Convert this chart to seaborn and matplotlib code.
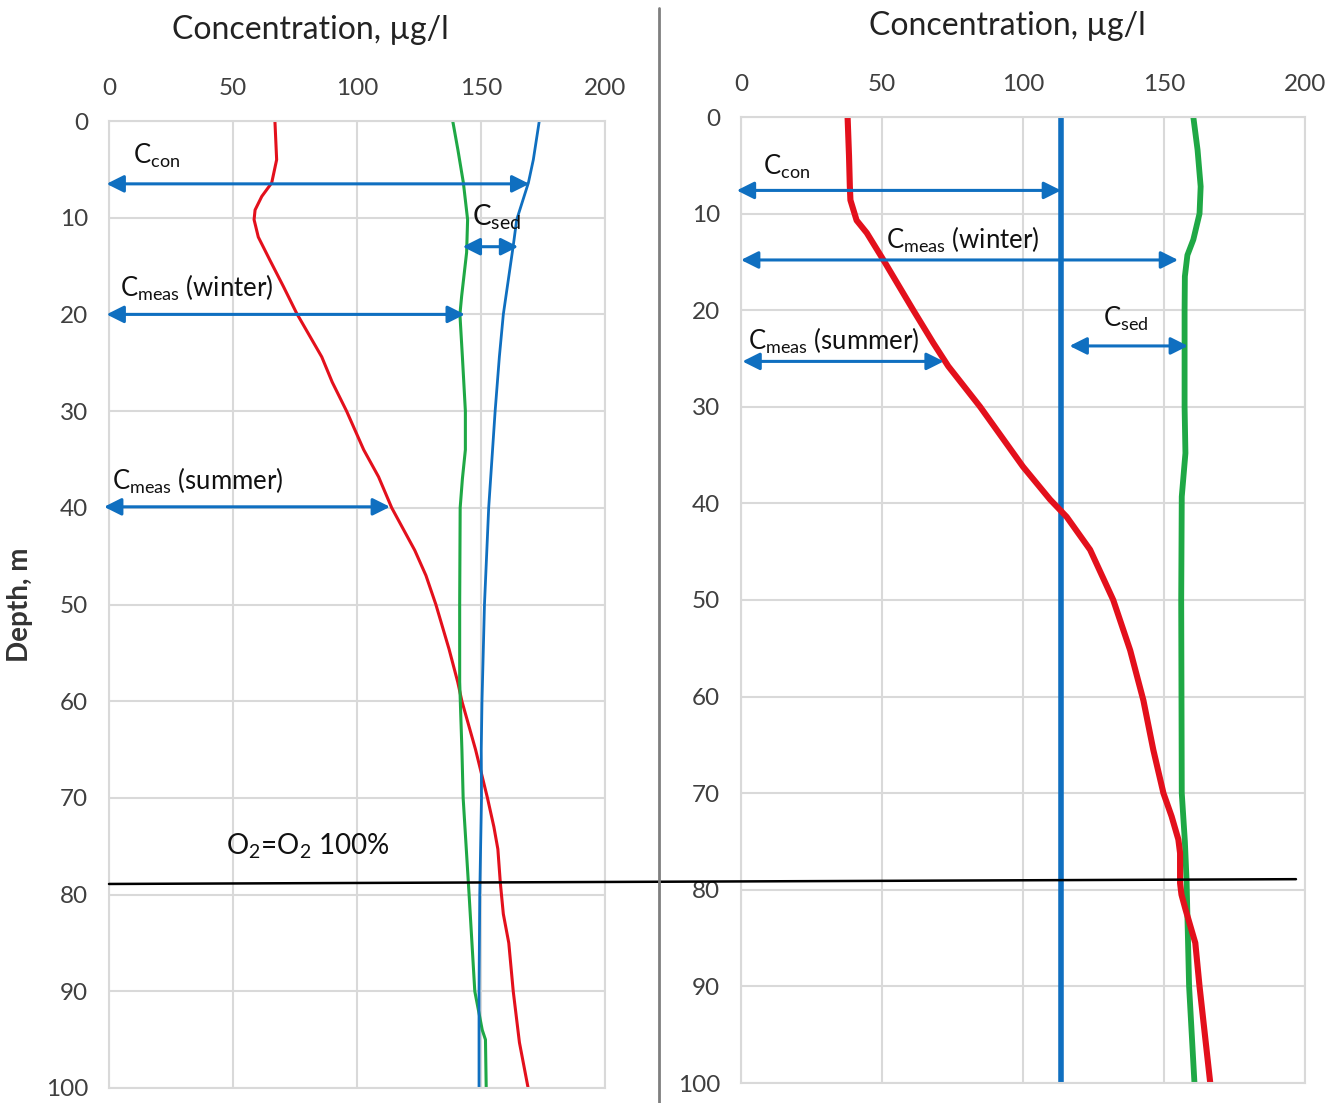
import matplotlib
matplotlib.use("Agg")
import matplotlib.pyplot as plt
from matplotlib.patches import ConnectionPatch
from matplotlib.lines import Line2D
import matplotlib.transforms as mtransforms
import seaborn as sns
import pandas as pd

# ---------------- data ----------------
# Left profile
left_blue_depth = [0, 4, 6.4, 10.2, 12.9, 20, 24.4, 30, 40, 50, 60, 65, 70, 80, 90, 100]
left_blue_conc = [173.5, 171.1, 169.1, 164.4, 163, 159, 157.4, 155.7, 153.1, 151.4, 150.4, 150.1, 150.2, 149.5, 149.2, 149.2]

left_green_depth = [0, 3, 6.4, 10.2, 13.6, 18.1, 20, 24.4, 30, 34, 37, 40, 50, 58, 65, 70, 80, 90, 94, 95, 100]
left_green_conc = [138.6, 140.7, 142.9, 144.6, 144.2, 142.2, 141.5, 142.5, 143.7, 143.7, 142.5, 141.6, 141.4, 141.4, 142.3, 142.8, 145.2, 147.5, 150.5, 151.8, 152.1]

left_red_depth = [0, 4, 6.4, 7.8, 9.2, 10.2, 12, 14.4, 17.1, 19.9, 24.4, 27, 30, 34, 36.8, 40, 44.4, 47, 50,
                  54.6, 58, 60, 65, 70, 73, 75.3, 78.8, 82, 85, 90, 95.3, 100]
left_red_conc = [66.9, 67.6, 65.6, 61.6, 58.9, 58.5, 60.2, 64.9, 70.3, 75.7, 85.8, 90, 95.8, 102.7, 108.7, 114, 123.3, 127.8, 131.8,
                 137.1, 140.6, 142.3, 147.8, 152.6, 155.2, 156.8, 157.8, 159, 161.2, 163, 165.5, 169]

# Right profile
right_blue_depth = [0, 100]
right_blue_conc = [113.5, 113.5]

right_green_depth = [0, 3.4, 7.2, 10, 12.7, 14.3, 16.5, 20, 30, 34.8, 39.3, 50, 60, 70, 75, 79, 90, 100]
right_green_conc = [160.4, 161.9, 163, 162.6, 160.4, 158.3, 157.4, 157.3, 157.3, 157.6, 156.3, 156.1, 156.2, 156.3, 157.4, 158, 158.9, 160.8]

right_red_depth = [0, 4, 7.2, 8.6, 10.7, 12, 14.8, 20, 23.4, 25.8, 30, 36.2, 39.6, 41.4, 44.8, 50, 55.2,
                   60.4, 65.5, 70, 72.4, 74.8, 76.2, 79.3, 80.5, 82, 85.5, 90, 100]
right_red_conc = [37.8, 38.3, 38.6, 38.8, 41, 44.6, 50.5, 61.1, 68.2, 73.5, 84.8, 100, 109.6, 115.5, 123.8, 132, 138,
                  142.7, 146.2, 149.8, 152.7, 155.1, 155.7, 155.7, 156.2, 157.6, 161.1, 162.6, 166.4]

x_ticks = [0, 50, 100, 150, 200]
y_ticks = [0, 10, 20, 30, 40, 50, 60, 70, 80, 90, 100]
title_text = "Concentration, µg/l"
ylabel_text = "Depth, m"
o2_label = r"O$\mathregular{_2}$=O$\mathregular{_2}$ 100%"
o2_depth = 78.9

# arrows: (x_start, x_end, depth)
left_arrows = [(-1, 169.5, 6.5), (142.6, 165, 13.0), (-1, 143.5, 20.0), (-2, 113.3, 39.9)]
right_arrows = [(-1.5, 113.5, 7.6), (0, 155, 14.8), (116.5, 158.5, 23.7), (0.5, 71.9, 25.3)]

# labels: (text, x, depth, size)
left_labels = [(r"$\mathregular{C_{con}}$", 9.6, 3.6, 18.5),
               (r"$\mathregular{C_{sed}}$", 146.5, 10.0, 20),
               (r"$\mathregular{C_{meas}}$ (winter)", 4.5, 17.3, 18.5),
               (r"$\mathregular{C_{meas}}$ (summer)", 1.2, 37.2, 18.5)]
right_labels = [(r"$\mathregular{C_{con}}$", 7.8, 5.2, 18.5),
                (r"$\mathregular{C_{meas}}$ (winter)", 51.5, 12.7, 18.5),
                (r"$\mathregular{C_{sed}}$", 128.5, 20.9, 18.5),
                (r"$\mathregular{C_{meas}}$ (summer)", 2.6, 23.2, 18.5)]

RED = "#E3101C"
GREEN = "#1FA845"
BLUE = "#0F6FC0"
GRID = "#D9D9D9"
TXT = "#3F3F3F"

sns.set_theme(style="white")
plt.rcParams["font.family"] = ["Lato", "DejaVu Sans"]
plt.rcParams["mathtext.default"] = "regular"

fig = plt.figure(figsize=(13.4, 11.03), dpi=100)
ax1 = fig.add_axes([109 / 1340, 1 - 1088 / 1103, 496 / 1340, 967 / 1103])
ax2 = fig.add_axes([741 / 1340, 1 - 1083 / 1103, 564 / 1340, 966 / 1103])


def draw_profile(ax, depth, conc, color, lw):
    df = pd.DataFrame({"conc": conc, "depth": depth})
    sns.lineplot(data=df, x="conc", y="depth", orient="y", sort=False, estimator=None,
                 color=color, lw=lw, ax=ax, solid_joinstyle="round")


draw_profile(ax1, left_red_depth, left_red_conc, RED, 2.2)
draw_profile(ax1, left_green_depth, left_green_conc, GREEN, 2.2)
draw_profile(ax1, left_blue_depth, left_blue_conc, BLUE, 2.0)

draw_profile(ax2, right_blue_depth, right_blue_conc, BLUE, 4.0)
draw_profile(ax2, right_green_depth, right_green_conc, GREEN, 4.2)
draw_profile(ax2, right_red_depth, right_red_conc, RED, 4.4)

for ax, arrows, labels, title_x in ((ax1, left_arrows, left_labels, 81),
                                     (ax2, right_arrows, right_labels, 94.3)):
    ax.set_xlim(0, 200)
    ax.set_ylim(100, 0)
    ax.set_xticks(x_ticks)
    ax.set_yticks(y_ticks)
    ax.xaxis.tick_top()
    ax.tick_params(axis="x", length=0, pad=16, labelsize=17.5, labelcolor=TXT)
    ax.tick_params(axis="y", length=0, pad=15, labelsize=17.5, labelcolor=TXT)
    ax.set_xlabel("")
    ax.set_ylabel("")
    ax.grid(True, color=GRID, lw=1.5)
    ax.set_axisbelow(True)
    for sp in ax.spines.values():
        sp.set_color(GRID)
        sp.set_linewidth(1.5)
    for x0, x1, d in arrows:
        ax.annotate("", xy=(x1, d), xytext=(x0, d), annotation_clip=False,
                    arrowprops=dict(arrowstyle="<|-|>", color=BLUE, lw=2.2,
                                    mutation_scale=26, shrinkA=0, shrinkB=0))
    for txt, x, d, size in labels:
        ax.text(x, d, txt, fontsize=size, color="#111111", ha="left", va="center")
    trans = mtransforms.blended_transform_factory(ax.transData, ax.transAxes)
    ax.text(title_x, 1.094, title_text, transform=trans, ha="center", va="center",
            fontsize=23, color="#222222")

# oxygen saturation level spanning both profiles
ax1.text(47, 75.0, o2_label, fontsize=20, color="#111111", ha="left", va="center")
con = ConnectionPatch(xyA=(0, o2_depth), coordsA=ax1.transData,
                      xyB=(196.8, o2_depth), coordsB=ax2.transData,
                      color="black", lw=1.8)
fig.add_artist(con)

# divider between the two profiles
fig.add_artist(Line2D([659 / 1340, 659 / 1340], [0, 1 - 8 / 1103], transform=fig.transFigure,
                      color="#7F7F7F", lw=2))

fig.text(20 / 1340, 1 - 605 / 1103, ylabel_text, rotation=90, ha="center", va="center",
         fontsize=20, fontweight="bold", color="#333333")

fig.savefig("out.png", dpi=100)
